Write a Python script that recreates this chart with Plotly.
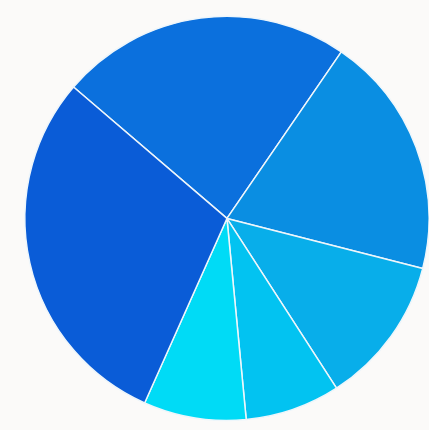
import plotly.graph_objects as go

labels = ["A", "B", "C", "D", "E", "F"]
values = [23.3, 19.4, 11.9, 7.6, 8.2, 29.6]
colors = ["#0b70dd", "#0a8ee2", "#08aeea", "#02c3f1", "#00dbf6", "#0a5cd7"]

fig = go.Figure(go.Pie(
    labels=labels,
    values=values,
    sort=False,
    direction="clockwise",
    rotation=310.6,
    marker=dict(colors=colors, line=dict(color="#eef6fb", width=1.5)),
    textinfo="none",
    hoverinfo="label+percent",
    domain=dict(x=[0.058, 1.0], y=[0.021, 0.963]),
))
fig.update_layout(
    width=429, height=430,
    margin=dict(l=0, r=0, t=0, b=0),
    showlegend=False,
    paper_bgcolor="#fbfaf9",
    plot_bgcolor="#fbfaf9",
)
fig.write_html(
    "out.html",
    config={"displayModeBar": False},
    post_script="document.body.style.margin='0';document.body.style.background='#fbfaf9';",
)
